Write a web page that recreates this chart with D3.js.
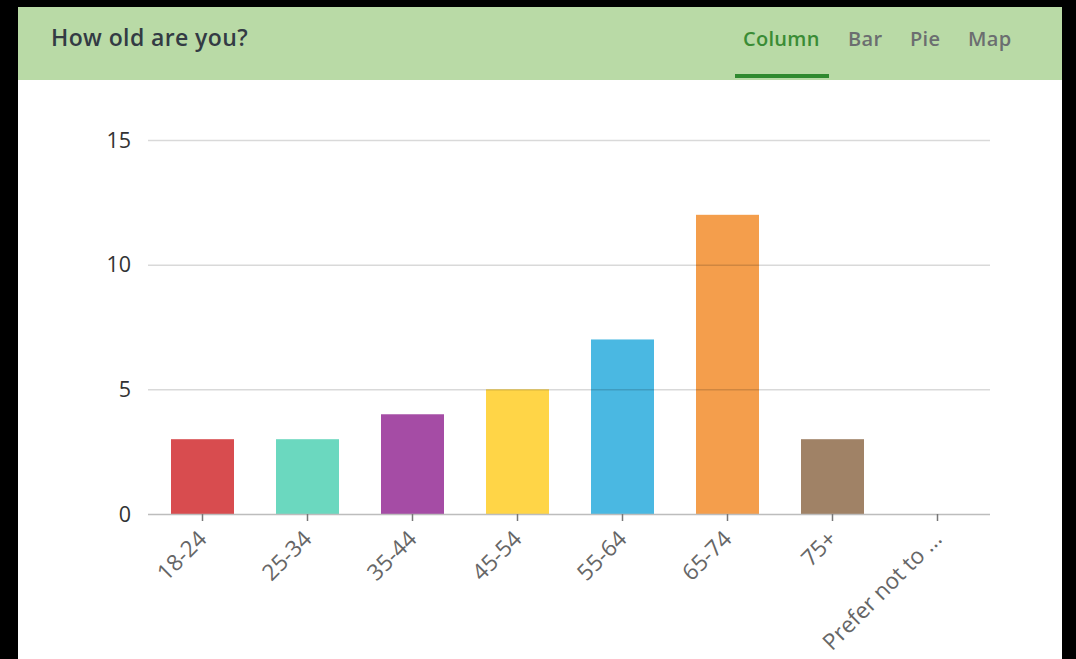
<!DOCTYPE html>
<html><head><meta charset="utf-8">
<script src="https://cdn.jsdelivr.net/npm/d3@7"></script>
<style>
html,body{margin:0;padding:0;background:#000;}
svg{display:block;}
</style></head>
<body>
<svg id="chart" width="1076" height="659"></svg>
<script>
const categories = ["18-24","25-34","35-44","45-54","55-64","65-74","75+","Prefer not to ..."];
const values = [3,3,4,5,7,12,3,0];
const colors = ["#d84c4f","#6bd8bf","#a54ca5","#ffd547","#4ab8e2","#f49e4c","#a08266","#999999"];
const yTicks = [0,5,10,15];
const tabs = ["Column","Bar","Pie","Map"];

const svg = d3.select("#chart");
// panel
svg.append("rect").attr("x",18).attr("y",7).attr("width",1044).attr("height",652).attr("fill","#fff");
svg.append("rect").attr("x",18).attr("y",7).attr("width",1044).attr("height",73).attr("fill","#b9daa6");
svg.append("text").attr("x",51).attr("y",46).text("How old are you?")
  .attr("font-family","'Open Sans', sans-serif").attr("font-weight",600).attr("font-size",23)
  .attr("letter-spacing",0.4).attr("fill","#333b44");
const tabX = [743,848,910,968];
tabs.forEach((t,i)=>{
  svg.append("text").attr("x",tabX[i]).attr("y",46).text(t)
    .attr("font-family","'Open Sans', sans-serif").attr("font-weight",600).attr("font-size",20)
    .attr("letter-spacing",0.3)
    .attr("fill", i===0 ? "#3a8c35" : "#6b6e70");
});
svg.append("rect").attr("x",735).attr("y",74).attr("width",94).attr("height",4).attr("fill","#2f8a2f");

const x = d3.scaleBand().domain(categories).range([150,990]).paddingInner(0.4).paddingOuter(0.2);
const y = d3.scaleLinear().domain([0,15]).range([514,140]);

// bars
svg.append("g").selectAll("rect").data(values).join("rect")
  .attr("x",(d,i)=>x(categories[i])).attr("width",x.bandwidth())
  .attr("y",d=>y(d)).attr("height",d=>y(0)-y(d))
  .attr("fill",(d,i)=>colors[i]);

// gridlines
const g = svg.append("g");
g.selectAll("line").data(yTicks.filter(d=>d>0)).join("line")
  .attr("x1",148).attr("x2",990).attr("y1",d=>y(d)+0.5).attr("y2",d=>y(d)+0.5)
  .attr("stroke","#000").attr("stroke-opacity",0.15).attr("stroke-width",1.5);

// y axis labels
const yAxis = d3.axisLeft(y).tickValues(yTicks).tickSize(0).tickPadding(0);
const ya = svg.append("g").attr("transform","translate(131,0)").call(yAxis);
ya.select(".domain").remove();
ya.selectAll("text").attr("font-family","'Open Sans', sans-serif").attr("font-size",21.5).attr("fill","#333").attr("dy","0.33em");

// x axis
const xAxis = d3.axisBottom(x).tickSize(7).tickPadding(4);
const xa = svg.append("g").attr("transform",`translate(0,${y(0)})`).call(xAxis);
xa.select(".domain").attr("d","M148,0.5H990").attr("stroke","#bdbdbd").attr("stroke-width",1.5);
xa.selectAll(".tick line").attr("stroke","#777").attr("stroke-width",1.5);
xa.selectAll(".tick text")
  .attr("font-family","'Open Sans', sans-serif").attr("font-size",22.5).attr("fill","#666")
  .attr("text-anchor","end").attr("dy","0.35em")
  .attr("transform","translate(0,18) rotate(-45)").attr("x",-2).attr("y",2);
</script>
</body></html>
